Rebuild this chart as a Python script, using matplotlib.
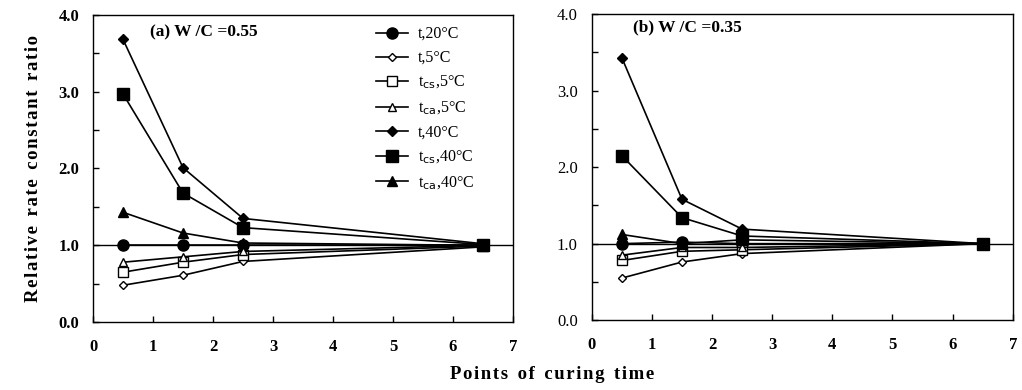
import matplotlib
matplotlib.use("Agg")
import matplotlib.pyplot as plt
from matplotlib.ticker import MultipleLocator, FixedLocator

plt.rcParams['font.family'] = ['Liberation Serif', 'DejaVu Serif']

x = [0.5, 1.5, 2.5, 6.5]

labels = ["t,20°C", "t,5°C", r"t$_{\mathrm{cs}}$,5°C", r"t$_{\mathrm{ca}}$,5°C",
          "t,40°C", r"t$_{\mathrm{cs}}$,40°C", r"t$_{\mathrm{ca}}$,40°C"]

# panel (a) W/C = 0.55
a_t20 = [1.00, 1.00, 1.00, 1.00]
a_t5 = [0.48, 0.61, 0.79, 0.98]
a_tcs5 = [0.65, 0.78, 0.88, 0.99]
a_tca5 = [0.78, 0.85, 0.92, 1.00]
a_t40 = [3.68, 2.01, 1.35, 1.02]
a_tcs40 = [2.97, 1.68, 1.23, 1.01]
a_tca40 = [1.43, 1.16, 1.03, 1.00]

# panel (b) W/C = 0.35
b_t20 = [1.00, 1.02, 1.00, 1.00]
b_t5 = [0.55, 0.76, 0.87, 1.00]
b_tcs5 = [0.78, 0.90, 0.92, 1.00]
b_tca5 = [0.85, 0.95, 0.95, 1.00]
b_t40 = [3.43, 1.58, 1.19, 1.00]
b_tcs40 = [2.15, 1.34, 1.10, 1.00]
b_tca40 = [1.12, 1.00, 1.05, 1.00]

styles = [
    dict(marker='o', mfc='black', ms=8),
    dict(marker='D', mfc='white', ms=4.5),
    dict(marker='s', mfc='white', ms=7),
    dict(marker='^', mfc='white', ms=6),
    dict(marker='D', mfc='black', ms=5),
    dict(marker='s', mfc='black', ms=8),
    dict(marker='^', mfc='black', ms=7),
]

fig = plt.figure(figsize=(10.22, 3.9), dpi=100)
axa = fig.add_axes([0.091, 0.174, 0.411, 0.788])
axb = fig.add_axes([0.579, 0.179, 0.412, 0.785])

def spaced(s):
    return "\u200a".join(s).replace("\u200a \u200a", "  ")

def draw(ax, series, title, tx, ty, bold_ticks):
    for s, lab, st in zip(series, labels, styles):
        ax.plot(x, s, color='black', lw=1.2, mec='black', mew=1.0,
                label=lab, **st)
    ax.axhline(1.0, color='black', lw=1.0, zorder=0)
    ax.set_xlim(0, 7)
    ax.set_ylim(0, 4)
    ax.xaxis.set_major_locator(MultipleLocator(1))
    ax.yaxis.set_major_locator(FixedLocator([0, 1, 2, 3, 4]))
    ax.yaxis.set_minor_locator(FixedLocator([0.5, 1.5, 2.5, 3.5]))
    ax.set_yticklabels(['0.0', '1.0', '2.0', '3.0', '4.0'])
    ax.tick_params(direction='in', which='both', top=False, right=False,
                   labelsize=12, width=1.0, length=4)
    for lab in ax.get_xticklabels():
        lab.set_fontweight('bold')
    for lab in ax.get_yticklabels():
        lab.set_fontweight('bold' if bold_ticks else 'normal')
    ax.tick_params(axis='x', pad=12)
    ax.tick_params(axis='y', pad=10)
    for sp in ax.spines.values():
        sp.set_linewidth(1.0)
    ax.text(tx, ty, title, fontsize=12.5, fontweight='bold', ha='left', va='center')

draw(axa, [a_t20, a_t5, a_tcs5, a_tca5, a_t40, a_tcs40, a_tca40],
     "(a) W /C =0.55", 0.95, 3.77, True)
draw(axb, [b_t20, b_t5, b_tcs5, b_tca5, b_t40, b_tcs40, b_tca40],
     "(b) W /C =0.35", 0.68, 3.83, False)

axa.legend(loc='upper left', bbox_to_anchor=(0.64, 1.01), frameon=False,
           fontsize=11.5, handlelength=2.0, labelspacing=0.5, handletextpad=0.6)

axa.set_ylabel(spaced("Relative rate constant ratio"),
               fontsize=13.5, fontweight='bold', labelpad=12)
fig.text(0.54, 0.04, spaced("Points of curing time"),
         fontsize=13.5, fontweight='bold', ha='center', va='center')

fig.savefig("out.png", dpi=100)
